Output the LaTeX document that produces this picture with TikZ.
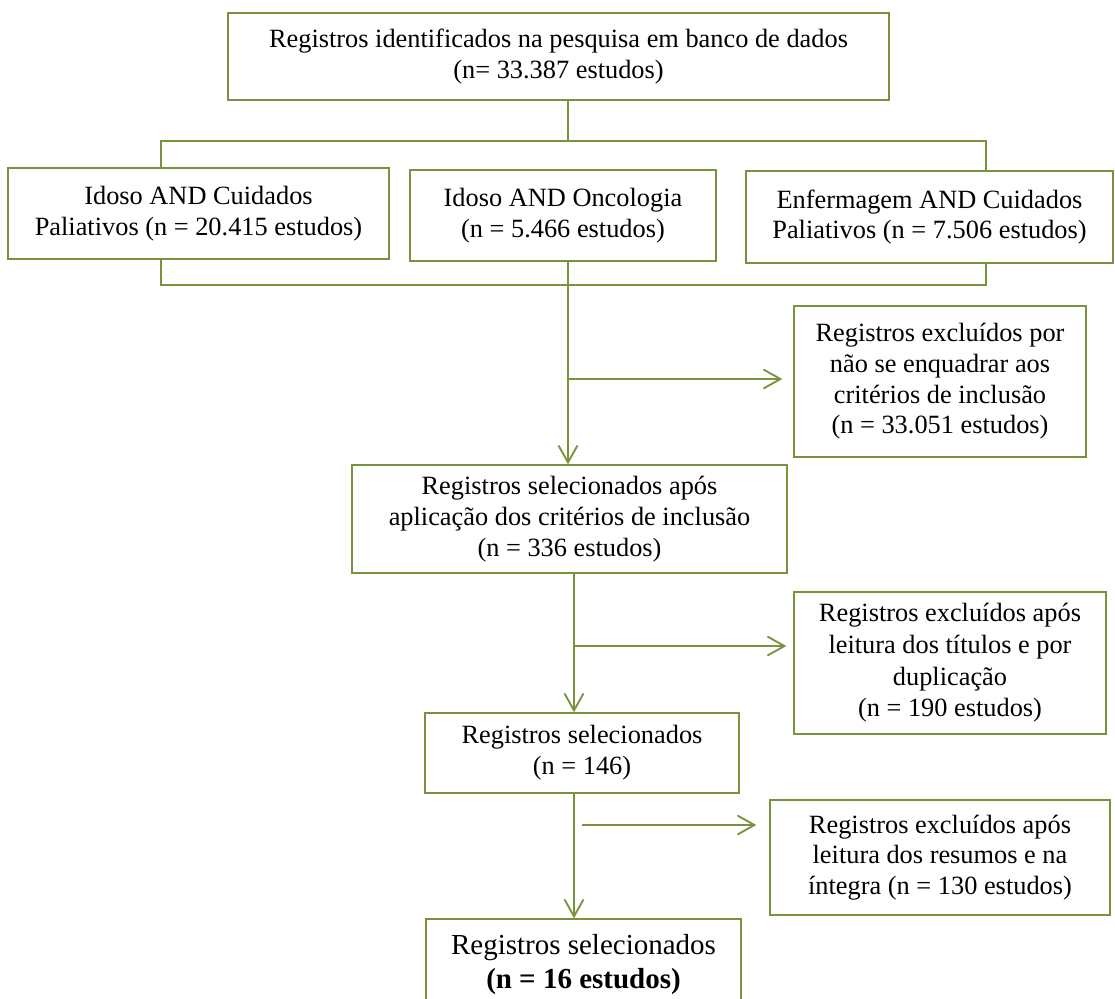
\documentclass[tikz,border=0pt]{standalone}
\usepackage{fontspec}
\setmainfont{Liberation Serif}
\usetikzlibrary{arrows.meta, positioning, calc}
\definecolor{flowgreen}{RGB}{119,147,60}

\begin{document}
\begin{tikzpicture}[x=0.02cm, y=-0.02cm,
  box/.style={draw=flowgreen, line width=0.8pt, align=center, inner sep=0pt, font=\fontsize{15}{17.5}\selectfont},
  link/.style={flowgreen, line width=0.9pt},
  arrow/.style={link, line width=1.05pt, -{Straight Barb[length=0.34cm, width=0.38cm]}}]
  \path[use as bounding box, clip] (0,0) rectangle (1115,998);
  \node[box, minimum width=13.22cm, minimum height=1.74cm] (ident) at (558.5,56.5) {Registros identificados na pesquisa em banco de dados\\(n= 33.387 estudos)};
  \node[box, minimum width=7.62cm, minimum height=1.82cm] (cuid) at (198.5,213.5) {Idoso AND Cuidados\\Paliativos (n = 20.415 estudos)};
  \node[box, minimum width=6.12cm, minimum height=1.82cm] (onco) at (563,215.5) {Idoso AND Oncologia\\(n = 5.466 estudos)};
  \node[box, minimum width=7.34cm, minimum height=1.84cm] (enf) at (929.5,217) {Enfermagem AND Cuidados\\Paliativos (n = 7.506 estudos)};
  \node[box, minimum width=5.84cm, minimum height=3.02cm] (exc1) at (940,381.5) {Registros excluídos por\\não se enquadrar aos\\critérios de inclusão\\(n = 33.051 estudos)};
  \node[box, minimum width=8.7cm, minimum height=2.16cm] (sel1) at (569.5,519) {Registros selecionados após\\aplicação dos critérios de inclusão\\(n = 336 estudos)};
  \node[box, minimum width=6.24cm, minimum height=2.84cm, font=\fontsize{15}{18}\selectfont] (exc2) at (950,663) {Registros excluídos após\\leitura dos títulos e por\\duplicação\\(n = 190 estudos)};
  \node[box, minimum width=6.28cm, minimum height=1.6cm] (sel2) at (582,753) {Registros selecionados\\(n = 146)};
  \node[box, minimum width=6.8cm, minimum height=2.3cm] (exc3) at (940,857.5) {Registros excluídos após\\leitura dos resumos e na\\íntegra (n = 130 estudos)};
  \node[box, minimum width=6.3cm, minimum height=1.82cm, font=\fontsize{16.5}{19.8}\selectfont] (final) at (583.5,964.5) {Registros selecionados\\\textbf{(n = 16 estudos)}};

  \coordinate (brL) at (161,141);
  \coordinate (brM) at (568,141);
  \coordinate (brR) at (986,141);
  \coordinate (baL) at (161,285);
  \coordinate (baR) at (986,285);
  \coordinate (b1) at (568,379);
  \coordinate (b2) at (574,646);
  \coordinate (b3) at (582,825);

  \draw[link] (ident.south -| brM) -- (brM);
  \draw[link] (cuid.north -| brL) |- (brR) -- (enf.north -| brR);
  \draw[link] (cuid.south -| baL) |- (baR) -- (enf.south -| baR);
  \draw[arrow] (onco.south -| b1) -- (sel1.north -| b1);
  \draw[arrow, shorten >=0.22cm] (b1) -- (b1 -| exc1.west);
  \draw[arrow] (sel1.south -| b2) -- (sel2.north -| b2);
  \draw[arrow, shorten >=0.14cm] (b2) -- (b2 -| exc2.west);
  \draw[arrow] (sel2.south -| b2) -- (final.north -| b2);
  \draw[arrow, shorten >=0.26cm] (b3) -- (b3 -| exc3.west);
\end{tikzpicture}
\end{document}
